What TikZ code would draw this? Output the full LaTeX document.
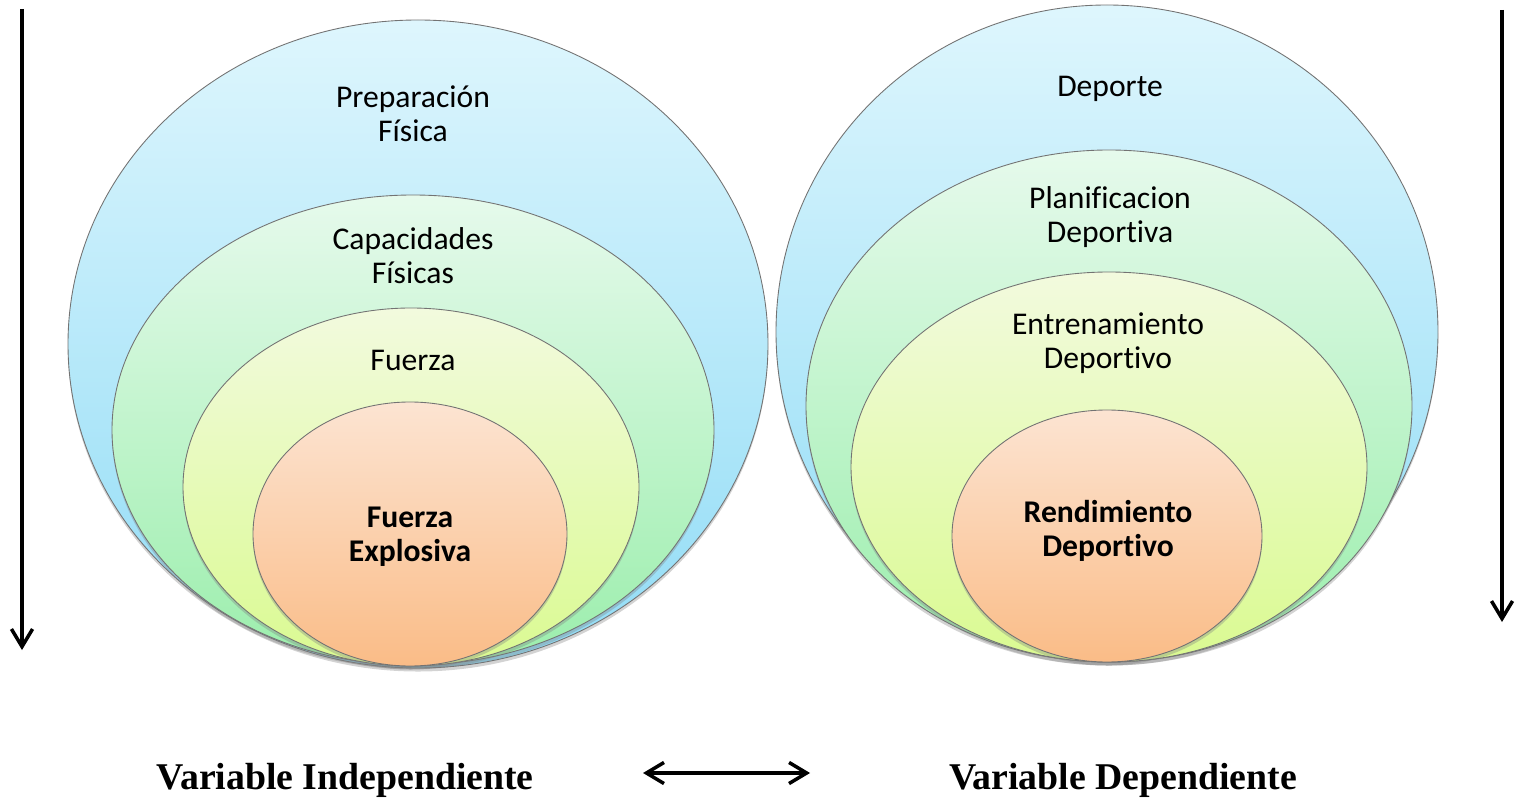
\documentclass[tikz,border=0pt]{standalone}
\usepackage{fontspec}
\setmainfont{Liberation Serif}
\newfontfamily\calibri[Ligatures=NoCommon]{Carlito}
\usetikzlibrary{arrows.meta,shadows}

\definecolor{bluetop}{RGB}{222,246,253}
\definecolor{bluebot}{RGB}{145,220,246}
\definecolor{greentop}{RGB}{230,250,236}
\definecolor{greenbot}{RGB}{155,238,172}
\definecolor{yellowtop}{RGB}{242,250,222}
\definecolor{yellowbot}{RGB}{218,250,145}
\definecolor{orangetop}{RGB}{252,228,210}
\definecolor{orangebot}{RGB}{250,188,135}

\tikzset{
  ring/.style={draw=black!55, line width=0.5pt,
    drop shadow={shadow xshift=0pt, shadow yshift=-2pt, opacity=0.35}},
  ringtext/.style={font=\calibri\fontsize{18}{19.5}\selectfont, align=center},
  ringbold/.style={ringtext, font=\calibri\bfseries\fontsize{18}{19.5}\selectfont},
  vartext/.style={font=\bfseries\fontsize{21.5}{24}\selectfont},
  barb/.tip={Straight Barb[length=10pt, width=12pt]},
  axis/.style={line width=2pt, -barb}
}

\begin{document}
\begin{tikzpicture}[x=0.02cm, y=0.02cm]
    \useasboundingbox (0,0) rectangle (1515,802);

    % nested rings, outer first
    \foreach \cx/\cy/\rx/\ry/\col in {418/458/350/324/blue, 413/372/301/235/green,
        411/315/228/179/yellow, 410/268/157/132/orange,
        1107/470/331/327/blue, 1109/396/303/256/green,
        1109/335/258/195/yellow, 1107/266/155/126/orange}
        \path[ring, top color=\col top, bottom color=\col bot]
            (\cx,\cy) ellipse [x radius=\rx, y radius=\ry];

    \node[ringtext] (prep) at (413,688) {Preparación\\Física};
    \node[ringtext] (capa) at (413,546) {Capacidades\\Físicas};
    \node[ringtext] (fuer) at (413,442) {Fuerza};
    \node[ringbold] (expl) at (410,265) {Fuerza\\Explosiva};

    \node[ringtext] (depo) at (1110,713) {Deporte};
    \node[ringtext] (plan) at (1110,585) {Planificacion\\Deportiva};
    \node[ringtext] (entr) at (1108,459) {Entrenamiento\\Deportivo};
    \node[ringbold] (rend) at (1108,271) {Rendimiento\\Deportivo};

    \node[vartext] (indep) at (345,22) {Variable Independiente};
    \node[vartext] (dep) at (1123,22) {Variable Dependiente};

    \coordinate (la) at (22,793);
    \coordinate (lb) at (22,152);
    \coordinate (ra) at (1502,792);
    \coordinate (rb) at (1502,180);
    \coordinate (ma) at (643,29);
    \coordinate (mb) at (810,29);

    \draw[axis] (la) -- (lb);
    \draw[axis] (ra) -- (rb);
    \draw[line width=2pt, barb-barb] (ma) -- (mb);
\end{tikzpicture}
\end{document}
